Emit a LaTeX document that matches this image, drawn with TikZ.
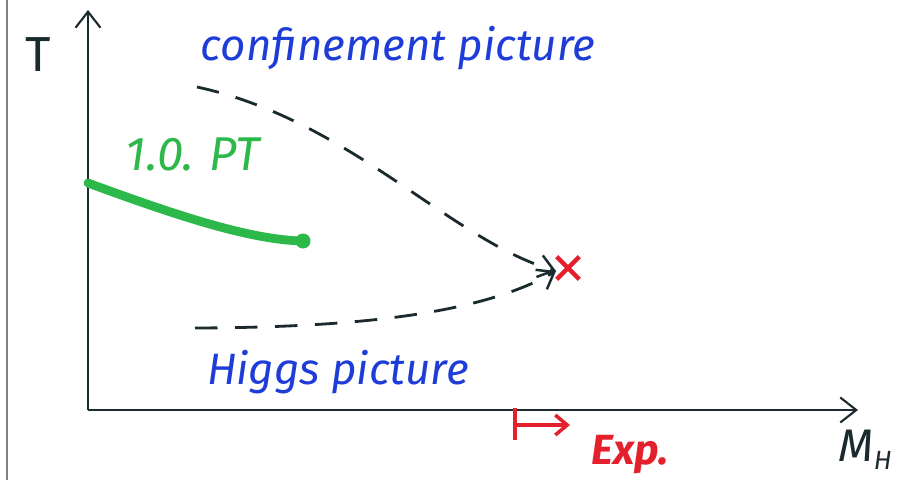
\documentclass[tikz,border=0pt]{standalone}
\usepackage{fontspec}
\setmainfont{Fira Sans}
\usepackage{tikz}
\usetikzlibrary{arrows.meta,positioning,shapes.misc}
\definecolor{Ink}{HTML}{1A2A2E}
\definecolor{PenBlue}{HTML}{1E3CD8}
\definecolor{PenGreen}{HTML}{2DB84A}
\definecolor{PenRed}{HTML}{E4202C}
\definecolor{Frame}{HTML}{808080}

\begin{document}
\begin{tikzpicture}[
  axis/.style={-{Straight Barb[length=3.2mm,width=5mm,line width=1.2pt]},line width=1.3pt,draw=Ink},
  path/.style={-{Straight Barb[length=3mm,width=4.5mm,line width=1.4pt]},line width=1.6pt,draw=Ink,
    dash pattern=on 4.5mm off 3.5mm},
  label/.style={font=\fontsize{25}{29}\selectfont\itshape,inner sep=0pt},
  picture/.style={label,text=PenBlue},
  transition/.style={line width=5pt,draw=PenGreen,line cap=round},
  bound/.style={draw=PenRed,line width=2.8pt}
]
  \useasboundingbox (0,0) rectangle (18,9.6);
  \draw[Frame,line width=1.2pt] (0.14,0) -- (0.14,9.6);

  % axes
  \coordinate (origin) at (1.76,1.4);
  \coordinate (ytip) at (1.76,9.4);
  \coordinate (xtip) at (17.16,1.4);
  \draw[axis] (origin) -- (ytip);
  \draw[axis] (origin) -- (xtip);
  \node[text=Ink,font=\fontsize{28}{30}\selectfont,inner sep=0pt] (T) at (0.76,8.5) {T};
  \node[text=Ink,font=\fontsize{26}{30}\selectfont\itshape,inner sep=0pt] (MH) at (17.3,0.6)
    {M\raisebox{-0.35ex}{\fontsize{15}{15}\selectfont H}};

  % two pictures meeting at the endpoint
  \node[picture] (conf) at (7.96,8.64) {confinement picture};
  \node[picture] (higgs) at (6.76,2.16) {Higgs picture};
  \coordinate (confstart) at (3.94,7.86);
  \coordinate (higgsstart) at (3.9,3.04);
  \coordinate (end) at (11.12,4.18);
  \node[cross out,draw=PenRed,line width=2.6pt,minimum size=3.6mm,inner sep=0pt] (cross) at (11.36,4.24) {};
  \draw[path] (confstart) .. controls (7,7.2) and (9,4.8) .. (end);
  \draw[path] (higgsstart) .. controls (7,3.05) and (9.6,3.3) .. (end);

  % first order transition line
  \coordinate (pt) at (1.76,5.94);
  \node[circle,fill=PenGreen,minimum size=3mm,inner sep=0pt] (cep) at (6.06,4.78) {};
  \draw[transition] (pt) .. controls (3.5,5.3) and (5,4.8) .. (cep.center);
  \node[text=PenGreen,font=\fontsize{27}{30}\selectfont\itshape,inner sep=0pt] (pttext) at (3.86,6.52) {1.0.\,\,PT};

  % experimental bound
  \coordinate (bartop) at (10.3,1.44);
  \coordinate (barbot) at (10.3,0.8);
  \coordinate (barmid) at (10.3,1.1);
  \coordinate (bararrow) at (11.4,1.1);
  \draw[bound] (bartop) -- (barbot);
  \draw[bound,-{Straight Barb[length=2.4mm,width=4mm,line width=2pt]}] (barmid) -- (bararrow);
  \node[text=PenRed,font=\fontsize{24}{28}\selectfont\bfseries\itshape,inner sep=0pt] (exp) at (12.6,0.5) {Exp.};
\end{tikzpicture}
\end{document}
